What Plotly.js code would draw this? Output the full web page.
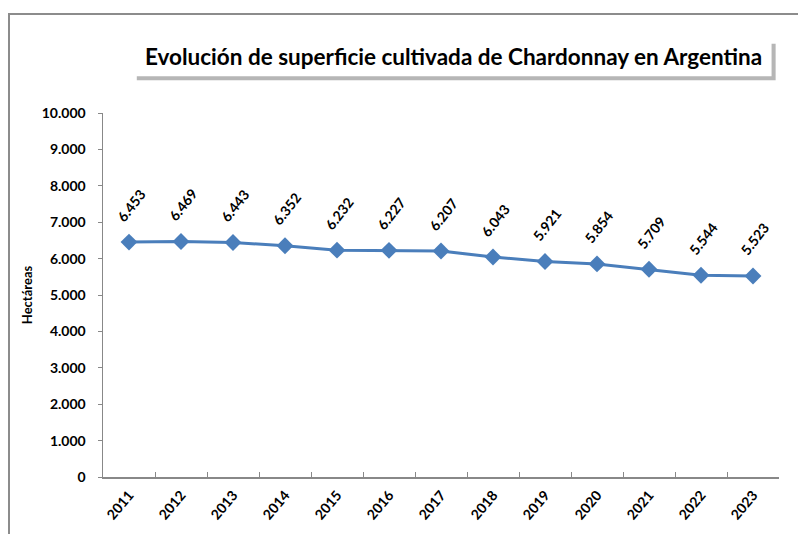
<!DOCTYPE html>
<html lang="es">
<head>
    <meta charset="UTF-8">
    <title>Chardonnay en Argentina</title>
    <script src="https://cdn.plot.ly/plotly-3.0.1.min.js"></script>
    <style>
        html, body {
            margin: 0;
            padding: 0;
            overflow: hidden;
            background: white;
        }

        #plot {
            position: absolute;
            left: 8px;
            top: 13px;
            width: 800px;
            height: 530px;
            border-left: 2px solid #8c8c8c;
            border-top: 2px solid #8c8c8c;
        }
    </style>
</head>
<body>
    <div id="plot"></div>

    <script>
        const years = ['2011', '2012', '2013', '2014', '2015', '2016', '2017',
                       '2018', '2019', '2020', '2021', '2022', '2023'];
        const hectares = [6453, 6469, 6443, 6352, 6232, 6227, 6207,
                          6043, 5921, 5854, 5709, 5544, 5523];
        const yTicks = [0, 1000, 2000, 3000, 4000, 5000, 6000, 7000, 8000, 9000, 10000];

        const chartTitle = 'Evolución de superficie cultivada de Chardonnay en Argentina';
        const yTitle = 'Hectáreas';

        const blue = '#4A7EBB';
        const axisGray = '#888888';
        const fontFamily = 'Lato, "Open Sans", sans-serif';

        // 6453 -> "6.453"
        function fmt(v) {
            return String(v).replace(/\B(?=(\d{3})+(?!\d))/g, '.');
        }

        const trace = {
            x: years,
            y: hectares,
            type: 'scatter',
            mode: 'lines+markers',
            line: {color: blue, width: 3},
            marker: {symbol: 'diamond', size: 13, color: blue},
            hoverinfo: 'skip',
            cliponaxis: false
        };

        // data labels, rotated (x as category index, years look numeric)
        const labels = years.map((yr, i) => ({
            x: i,
            y: hectares[i],
            xref: 'x',
            yref: 'y',
            text: fmt(hectares[i]),
            showarrow: false,
            textangle: -52,
            xshift: 2,
            yshift: 37,
            font: {family: fontFamily, size: 14, color: '#000', weight: 'bold'}
        }));

        labels.push({
            xref: 'paper',
            yref: 'paper',
            x: 0.518,
            y: 1.155,
            xanchor: 'center',
            yanchor: 'middle',
            text: chartTitle,
            showarrow: false,
            font: {family: fontFamily, size: 22.5, color: '#000', weight: 'bold'}
        });

        const layout = {
            width: 800,
            height: 530,
            margin: {l: 93, r: 31, t: 98, b: 68},
            paper_bgcolor: 'white',
            plot_bgcolor: 'white',
            showlegend: false,
            separators: ',.',
            font: {family: fontFamily, color: '#000'},
            xaxis: {
                type: 'category',
                range: [-0.5, 12.5],
                showline: true,
                linecolor: axisGray,
                linewidth: 1.5,
                showgrid: false,
                zeroline: false,
                ticks: 'inside',
                tickson: 'boundaries',
                ticklen: 5,
                tickcolor: axisGray,
                tickangle: -50,
                ticklabelstandoff: 3,
                tickfont: {family: fontFamily, size: 14, color: '#000', weight: 'bold'}
            },
            yaxis: {
                range: [0, 10000],
                tickvals: yTicks,
                tickformat: ',d',
                showline: true,
                linecolor: axisGray,
                linewidth: 1.5,
                showgrid: false,
                zeroline: false,
                ticks: 'outside',
                ticklen: 4,
                tickcolor: axisGray,
                ticklabelstandoff: 9,
                tickfont: {family: fontFamily, size: 14, color: '#000', weight: 'bold'},
                title: {
                    text: yTitle,
                    standoff: 6,
                    font: {family: fontFamily, size: 13, color: '#000', weight: 'bold'}
                }
            },
            shapes: [
                // title box shadow
                {
                    type: 'rect', xref: 'paper', yref: 'paper', layer: 'above',
                    x0: 0.05, x1: 0.995, y0: 1.09, y1: 1.19,
                    fillcolor: 'rgba(110,110,110,0.5)', line: {width: 0}
                },
                // title box
                {
                    type: 'rect', xref: 'paper', yref: 'paper', layer: 'above',
                    x0: 0.044, x1: 0.989, y0: 1.101, y1: 1.201,
                    fillcolor: 'white', line: {width: 0}
                }
            ],
            annotations: labels
        };

        Plotly.newPlot('plot', [trace], layout, {displayModeBar: false, staticPlot: true});
    </script>
</body>
</html>
